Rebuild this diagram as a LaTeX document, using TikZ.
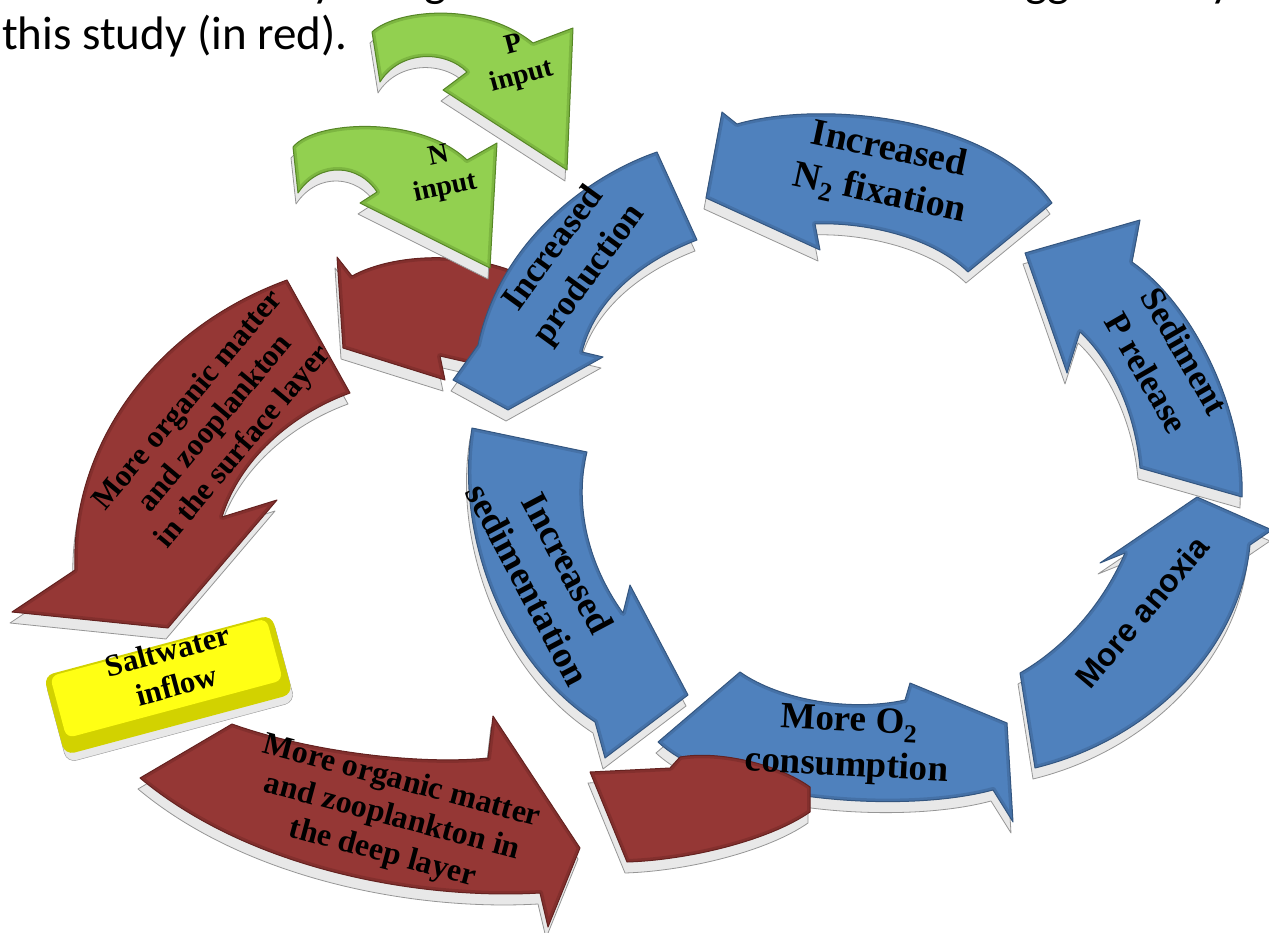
\documentclass[tikz,border=0pt]{standalone}
\usepackage{fontspec}
\setmainfont{Liberation Serif}
\newfontfamily\capfont{Carlito}
\newfontfamily\arialfont{Liberation Sans}
\definecolor{myblue}{RGB}{79,129,189}
\definecolor{blueedge}{RGB}{52,86,128}
\definecolor{myred}{RGB}{149,55,53}
\definecolor{rededge}{RGB}{100,34,32}
\definecolor{mygreen}{RGB}{146,208,80}
\definecolor{greenedge}{RGB}{86,134,38}
\definecolor{myyellow}{RGB}{255,255,20}
\definecolor{yellowside}{RGB}{210,210,0}
\definecolor{rimfill}{RGB}{232,232,232}
\definecolor{rimedge}{RGB}{150,150,150}
\tikzset{
  rim/.style={fill=rimfill, draw=rimedge, line width=0.8pt, shift={(-2,11)}},
  blueface/.style={fill=myblue, draw=blueedge, line width=1pt},
  redface/.style={fill=myred, draw=rededge, line width=1pt},
  greenface/.style={fill=mygreen, draw=greenedge, line width=1pt},
  lbl/.style={inner sep=0pt, align=center, font=\bfseries\fontsize{37}{45}\selectfont},
  redlbl/.style={inner sep=0pt, align=center, font=\bfseries\fontsize{32}{37}\selectfont},
  greenlbl/.style={inner sep=0pt, align=center, font=\bfseries\fontsize{28}{32}\selectfont},
  captxt/.style={inner sep=0pt, anchor=base west, font=\capfont\fontsize{47}{56}\selectfont}
}
% solid arrow: #1 shape macro, #2 face style, #3 bevel colour
\newcommand\solidarrow[3]{#1{rim}#1{#2}\begin{scope}#1{clip}#1{draw=#3, line width=6pt, opacity=0.35}\end{scope}}
\newcommand\shapeGP[1]{\path[#1] (372,32) .. controls (395,10) and (480,0) .. (533,43) -- (573,28) -- (567,170) -- (443,90) -- (467,72) .. controls (445,50) and (400,50) .. (380,82) -- cycle;}
\newcommand\shapeGN[1]{\path[#1] (293,147) .. controls (315,120) and (420,115) .. (467,160) -- (497,143) -- (490,268) -- (360,203) -- (377,192) .. controls (360,165) and (320,160) .. (298,193) -- cycle;}
\newcommand\shapeRT[1]{\path[#1] (337,257) -- (352,276) .. controls (390,255) and (460,250) .. (515,272) -- (510,372) -- (440,356) -- (445,380) -- (343,348) -- cycle;}
\newcommand\shapeIP[1]{\path[#1] (657,152) .. controls (590,175) and (500,240) .. (478,345) -- (453,380) -- (508,410) -- (603,357) -- (582,352) .. controls (595,300) and (640,262) .. (697,240) -- cycle;}
\newcommand\shapeNF[1]{\path[#1] (706,198) -- (722,112) -- (737,124) .. controls (820,100) and (990,115) .. (1052,203) -- (968,272) .. controls (930,235) and (860,222) .. (815,224) -- (820,250) -- cycle;}
\newcommand\shapeSP[1]{\path[#1] (1025,253) -- (1140,220) -- (1132,262) .. controls (1200,310) and (1245,420) .. (1242,497) -- (1140,468) .. controls (1135,410) and (1110,360) .. (1080,332) -- (1067,373) -- cycle;}
\newcommand\shapeMA[1]{\path[#1] (1035,768) .. controls (1150,740) and (1240,650) .. (1250,545) -- (1272,530) -- (1197,497) -- (1100,563) -- (1125,553) .. controls (1100,610) and (1060,650) .. (1020,673) -- cycle;}
\newcommand\shapeMO[1]{\path[#1] (658,742) .. controls (720,800) and (900,815) .. (993,790) -- (1013,822) -- (1007,723) -- (910,683) -- (905,700) .. controls (850,712) and (780,700) .. (740,672) -- cycle;}
\newcommand\shapeIS[1]{\path[#1] (472,428) .. controls (455,530) and (500,660) .. (595,722) -- (605,758) -- (688,695) -- (630,585) -- (623,613) .. controls (585,560) and (575,500) .. (587,452) -- cycle;}
\newcommand\shapeRS[1]{\path[#1] (287,280) .. controls (150,330) and (70,450) .. (75,570) -- (12,612) -- (168,628) -- (277,500) -- (222,517) .. controls (240,460) and (290,415) .. (350,393) -- cycle;}
\newcommand\shapeRD[1]{\path[#1] (140,778) .. controls (250,870) and (420,900) .. (540,893) -- (548,927) -- (580,848) -- (493,716) -- (488,758) .. controls (420,765) and (310,752) .. (232,724) -- cycle;}
\newcommand\shapeRB[1]{\path[#1] (590,772) -- (627,862) .. controls (690,860) and (770,840) .. (810,812) -- (810,787) .. controls (780,765) and (720,750) .. (680,757) -- (670,768) -- cycle;}
\begin{document}
\begin{tikzpicture}[x=1pt, y=-1pt, line join=round]
\useasboundingbox (0,0) rectangle (1269,933);
\fill[white] (0,0) rectangle (1269,933);
% caption fragments
\node[captxt] (cap0) at (2,50) {this study (in red).};
\node[captxt] (frag1) at (312,-3) {y};
\node[captxt] (frag2) at (424,-3) {g};
\node[captxt] (frag3) at (1025,-3) {gg};
\node[captxt] (frag4) at (1210,-3) {y};
% red loop
\solidarrow{\shapeRS}{redface}{rededge}
\solidarrow{\shapeRD}{redface}{rededge}
% saltwater box
\begin{scope}[shift={(168,684)}, rotate=15]
  \fill[rimfill, draw=rimedge, rounded corners=10] (-118,-36) rectangle (118,50);
  \fill[yellowside, rounded corners=10] (-118,-40) rectangle (118,42);
  \fill[myyellow, rounded corners=8] (-112,-38) rectangle (112,26);
\end{scope}
\node[inner sep=0pt, align=center, font=\bfseries\fontsize{31}{36}\selectfont, rotate=15] (tSW) at (172,668) {Saltwater\\inflow};
% top red + production
\solidarrow{\shapeRT}{redface}{rededge}
\solidarrow{\shapeIP}{blueface}{blueedge}
% green inputs
\solidarrow{\shapeGP}{greenface}{greenedge}
\solidarrow{\shapeGN}{greenface}{greenedge}
% blue cycle
\solidarrow{\shapeNF}{blueface}{blueedge}
\solidarrow{\shapeSP}{blueface}{blueedge}
\solidarrow{\shapeMA}{blueface}{blueedge}
\solidarrow{\shapeMO}{blueface}{blueedge}
\solidarrow{\shapeIS}{blueface}{blueedge}
\solidarrow{\shapeRB}{redface}{rededge}
% labels
\node[greenlbl, rotate=15] (tP) at (518,62) {P\\input};
\node[greenlbl, rotate=12] (tN) at (442,173) {N\\input};
\node[lbl, rotate=54, font=\bfseries\fontsize{35}{44}\selectfont] (tIP) at (572,262) {Increased\\production};
\node[lbl, rotate=-12, font=\bfseries\fontsize{38}{45}\selectfont] (tNF) at (884,173) {Increased\\N\textsubscript{2} fixation};
\node[lbl, rotate=-60, font=\bfseries\fontsize{35}{44}\selectfont] (tSP) at (1166,362) {Sediment\\P release};
\node[inner sep=0pt, rotate=50, font=\arialfont\bfseries\fontsize{32}{36}\selectfont] (tMA) at (1142,612) {More anoxia};
\node[lbl, rotate=-3] (tMO) at (848,745) {More O\textsubscript{2}\\consumption};
\node[lbl, rotate=-62] (tIS) at (548,574) {Increased\\sedimentation};
\node[redlbl, rotate=50, font=\bfseries\fontsize{31}{36}\selectfont] (tRS) at (216,424) {More organic matter\\and zooplankton\\in the surface layer};
\node[redlbl, rotate=-15] (tRD) at (392,818) {More organic matter\\and zooplankton in\\the deep layer};
\end{tikzpicture}
\end{document}
